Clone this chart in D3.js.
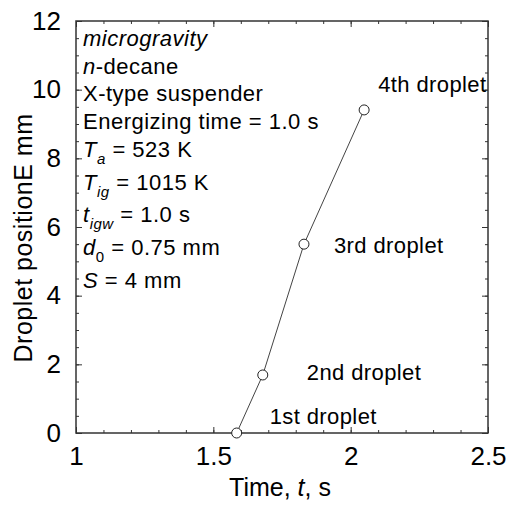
<!DOCTYPE html>
<html>
<head>
<meta charset="UTF-8">
<script src="https://d3js.org/d3.v7.min.js"></script>
<style>
  body { margin: 0; background: #fff; }
  text { font-family: Arial, "Liberation Sans", sans-serif; fill: #000; }
  .tick text { font-family: "Liberation Sans Narrow", "Arial Narrow", sans-serif; font-size: 26px; }
</style>
</head>
<body>
<div id="chart"></div>
<script>
// droplet data
var times = [1.585, 1.68, 1.83, 2.049];
var positions = [0, 1.69, 5.5, 9.41];
var dropletLabels = ["1st droplet", "2nd droplet", "3rd droplet", "4th droplet"];

var xTicks = [1, 1.5, 2, 2.5];
var yTicks = [0, 2, 4, 6, 8, 10, 12];

// conditions text, [text, italic, subscript]
var conditions = [
  [["microgravity", true]],
  [["n", true], ["-decane", false]],
  [["X-type suspender", false]],
  [["Energizing time = 1.0 s", false]],
  [["T", true], ["a", true, true], [" = 523 K", false]],
  [["T", true], ["ig", true, true], [" = 1015 K", false]],
  [["t", true], ["igw", true, true], [" = 1.0 s", false]],
  [["d", true], ["0", false, true], [" = 0.75 mm", false]],
  [["S", true], [" = 4 mm", false]]
];

var W = 507, H = 507;
var margin = { top: 21, right: 19, bottom: 74, left: 76 },
  width = W - margin.left - margin.right,
  height = H - margin.top - margin.bottom;

var svg = d3.select("#chart").append("svg")
  .attr("width", W).attr("height", H);
var g = svg.append("g")
  .attr("transform", "translate(" + margin.left + "," + margin.top + ")");

var x = d3.scaleLinear().domain([1, 2.5]).range([0, width]);
var y = d3.scaleLinear().domain([0, 12]).range([height, 0]);

var xMinor = d3.range(1, 2.5001, 0.1);
var yMinor = d3.range(0, 12.001, 0.5);

function styleAxis(sel) {
  sel.select(".domain").remove();
  sel.selectAll("line").attr("stroke", "#333").attr("stroke-width", 1);
}

// minor ticks
g.append("g").attr("transform", "translate(0," + height + ")")
  .call(d3.axisBottom(x).tickValues(xMinor).tickSize(-3).tickFormat(""))
  .call(styleAxis);
g.append("g")
  .call(d3.axisTop(x).tickValues(xMinor).tickSize(-3).tickFormat(""))
  .call(styleAxis);
g.append("g")
  .call(d3.axisLeft(y).tickValues(yMinor).tickSize(-3).tickFormat(""))
  .call(styleAxis);
g.append("g").attr("transform", "translate(" + width + ",0)")
  .call(d3.axisRight(y).tickValues(yMinor).tickSize(-3).tickFormat(""))
  .call(styleAxis);

// major ticks
g.append("g").attr("transform", "translate(0," + height + ")")
  .call(d3.axisBottom(x).tickValues(xTicks).tickSize(-6).tickPadding(14).tickFormat(d3.format("")))
  .call(styleAxis)
  .selectAll("text").attr("dy", "0.71em");
g.append("g")
  .call(d3.axisTop(x).tickValues(xTicks).tickSize(-6).tickFormat(""))
  .call(styleAxis);
g.append("g")
  .call(d3.axisLeft(y).tickValues(yTicks).tickSize(-6).tickPadding(15).tickFormat(d3.format("")))
  .call(styleAxis);
g.append("g").attr("transform", "translate(" + width + ",0)")
  .call(d3.axisRight(y).tickValues(yTicks).tickSize(-6).tickFormat(""))
  .call(styleAxis);

g.append("rect")
  .attr("width", width).attr("height", height)
  .attr("fill", "none").attr("stroke", "#333").attr("stroke-width", 1.5);

// axis titles
var xt = svg.append("text")
  .attr("x", margin.left + width / 2 - 2).attr("y", 496)
  .attr("text-anchor", "middle").style("font-size", "25px");
xt.append("tspan").text("Time, ");
xt.append("tspan").style("font-style", "italic").text("t");
xt.append("tspan").text(", s");

svg.append("text")
  .attr("transform", "translate(32,238) rotate(-90)")
  .attr("text-anchor", "middle").style("font-size", "25px").style("letter-spacing", "0.5px")
  .text("Droplet positionE mm");

// data line and points
var pts = times.map(function (t, i) { return { t: t, p: positions[i], label: dropletLabels[i] }; });

g.append("path").datum(pts)
  .attr("fill", "none").attr("stroke", "#444").attr("stroke-width", 1)
  .attr("d", d3.line().x(function (d) { return x(d.t); }).y(function (d) { return y(d.p); }));

g.selectAll("circle").data(pts).enter().append("circle")
  .attr("cx", function (d) { return x(d.t); })
  .attr("cy", function (d) { return y(d.p); })
  .attr("r", 5)
  .attr("fill", "#fff").attr("stroke", "#222").attr("stroke-width", 1);

// droplet labels, offset from each point
var labelOffsets = [[33, -9], [44, 5], [30, 9], [14, -18]];
g.selectAll(".dl").data(pts).enter().append("text")
  .attr("class", "dl")
  .attr("x", function (d, i) { return x(d.t) + labelOffsets[i][0]; })
  .attr("y", function (d, i) { return y(d.p) + labelOffsets[i][1]; })
  .style("font-size", "22px").style("letter-spacing", "0.4px")
  .text(function (d) { return d.label; });

// condition text block
var lineY = 46;
conditions.forEach(function (line, i) {
  if (i > 0) {
    lineY += 27.7;
    if (conditions[i - 1].some(function (s) { return s[2]; })) lineY += 5;
  }
  var tx = svg.append("text").attr("x", 83).attr("y", lineY)
    .style("font-size", "22px").style("letter-spacing", "0.5px");
  line.forEach(function (s, j) {
    var ts = tx.append("tspan").text(s[0]);
    if (s[1]) ts.style("font-style", "italic");
    if (s[2]) ts.style("font-size", "15px").attr("dy", 7);
    else if (j > 0 && line[j - 1][2]) ts.attr("dy", -7);
  });
});
</script>
</body>
</html>
